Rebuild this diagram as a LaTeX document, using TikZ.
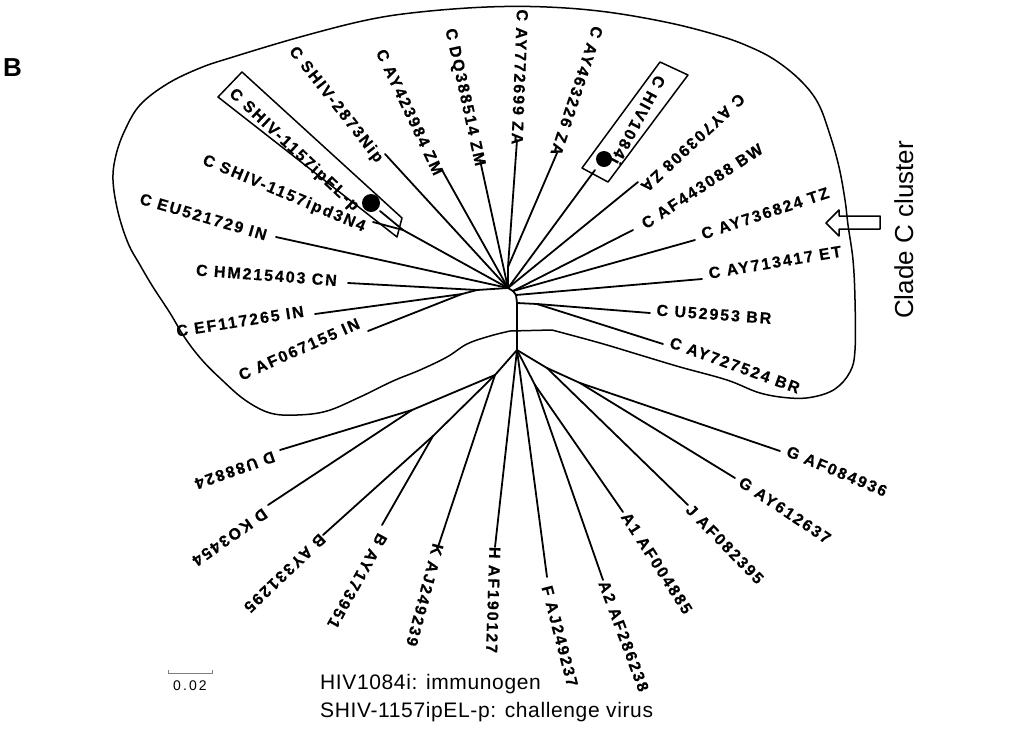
\documentclass[tikz,border=0pt]{standalone}
\usepackage{fontspec}
\setmainfont{Liberation Sans}
\newfontfamily\labfont[LetterSpace=12, BoldFeatures={FakeBold=0.5}]{Liberation Sans}
\newfontfamily\notefont[LetterSpace=3]{Liberation Sans}
\newfontfamily\scalefont[LetterSpace=15]{Liberation Sans}
\tikzset{
  br/.style={line width=1.8pt, line cap=round, line join=round},
  outl/.style={line width=1.5pt, line join=round},
  lab/.style={font=\labfont\bfseries\fontsize{16}{19}\selectfont, inner sep=0pt,
              text height=11.5pt, text depth=0pt, anchor=center},
  note/.style={font=\notefont\fontsize{21}{25}\selectfont, inner sep=0pt},
  dotn/.style={circle, fill=black, inner sep=0pt},
}
\begin{document}
\begin{tikzpicture}[x=1pt,y=-1pt]
\useasboundingbox (0,0) rectangle (1014,729);

% internal nodes
\coordinate (T) at (508,288);
\coordinate (U) at (508,267);
\coordinate (S) at (403,230);
\coordinate (W1) at (477,290);
\coordinate (W2) at (462,294);
\coordinate (V1) at (513,291);
\coordinate (V2) at (516,295);
\coordinate (R) at (517,303);
\coordinate (R2) at (537,304);
\coordinate (L) at (517,350);
\coordinate (N1) at (495,375);
\coordinate (Dn) at (412,410);
\coordinate (Bn) at (433,436);
\coordinate (An) at (535,385);
\coordinate (GJ) at (547,368);
\coordinate (Gn) at (580,383);

% tips
\coordinate (t1) at (385,154);
\coordinate (t2) at (442,170);
\coordinate (t3) at (480,160);
\coordinate (t4) at (517,140);
\coordinate (t5) at (557,153);
\coordinate (t6) at (595,170);
\coordinate (t7) at (638,182);
\coordinate (t8) at (633,230);
\coordinate (t9) at (695,240);
\coordinate (t10) at (702,279);
\coordinate (t11) at (650,313);
\coordinate (t12) at (663,344);
\coordinate (t13) at (780,451);
\coordinate (t14) at (735,478);
\coordinate (t15) at (688,505);
\coordinate (t16) at (623,512);
\coordinate (t17) at (603,580);
\coordinate (t18) at (547,577);
\coordinate (t19) at (495,547);
\coordinate (t20) at (438,547);
\coordinate (t21) at (382,525);
\coordinate (t22) at (323,535);
\coordinate (t23) at (268,505);
\coordinate (t24) at (280,450);
\coordinate (t25) at (368,331);
\coordinate (t26) at (315,314);
\coordinate (t27) at (348,283);
\coordinate (t28) at (276,237);
\coordinate (t29) at (373,222);
\coordinate (t30) at (380,211);

% cluster outline
\draw[outl] (510,331) -- (552,330) -- plot[smooth, tension=0.6] coordinates {(552,330) (600,343) (640,355) (680,367) (727,380) (760,393) (790,398) (813,397) (835,389) (850,372) (855,350) (855,300) (853,260) (848,225) (845,200) (839,167) (830,135) (818,103) (800,80) (775,60) (750,47) (720,36) (670,23) (607,12) (547,7) (487,7) (420,12) (367,20) (300,37) (233,57) (200,68) (167,84) (140,105) (125,130) (116,155) (113,180) (118,212) (128,243) (140,265) (153,287) (170,313) (185,338) (202,360) (222,380) (245,400) (270,413) (297,415) (327,411) (360,397) (393,381) (420,370) (447,357) (467,344) (490,336) (510,331)};

% branches
\draw[br] (T) -- (V1) -- (V2) -- (R) -- (L);
\draw[br] (T) -- (U);
\draw[br] (U) -- (t4);
\draw[br] (U) -- (t5);
\draw[br] (T) -- (t1);
\draw[br] (T) -- (t2);
\draw[br] (T) -- (t3);
\draw[br] (T) -- (t6);
\draw[br] (T) -- (t7);
\draw[br] (V1) -- (t8);
\draw[br] (V1) -- (t9);
\draw[br] (V2) -- (t10);
\draw[br] (R) -- (R2);
\draw[br] (R2) -- (t11);
\draw[br] (R2) -- (t12);
\draw[br] (L) -- (GJ);
\draw[br] (GJ) -- (Gn);
\draw[br] (Gn) -- (t13);
\draw[br] (Gn) -- (t14);
\draw[br] (GJ) -- (t15);
\draw[br] (L) -- (An);
\draw[br] (An) -- (t16);
\draw[br] (An) -- (t17);
\draw[br] (L) -- (t18);
\draw[br] (L) -- (t19);
\draw[br] (L) -- (N1);
\draw[br] (N1) -- (t20);
\draw[br] (N1) -- (Bn);
\draw[br] (Bn) -- (t21);
\draw[br] (Bn) -- (t22);
\draw[br] (N1) -- (Dn);
\draw[br] (Dn) -- (t23);
\draw[br] (Dn) -- (t24);
\draw[br] (T) -- (W1);
\draw[br] (W1) -- (t27);
\draw[br] (W1) -- (W2);
\draw[br] (W2) -- (t26);
\draw[br] (W2) -- (t25);
\draw[br] (T) -- (t28);
\draw[br] (T) -- (S);
\draw[br] (S) -- (t29);
\draw[br] (S) -- (t30);

% boxes and dots
\draw[outl] (242,72) -- (402,218) -- (397,237) -- (218,97) -- cycle;
\draw[outl] (660,62) -- (688,75) -- (608,182) -- (582,168) -- cycle;
\node[dotn, minimum size=18pt] (dot1) at (371,203) {};
\node[dotn, minimum size=16pt] (dot2) at (604,159) {};

% labels
\node[lab, rotate=-51.9] (l1) at (337,104) {C SHIV-2873Nip};
\node[lab, rotate=-64.8] (l2) at (410,112) {C AY423984 ZM};
\node[lab, rotate=-77.6] (l3) at (466,97) {C DQ388514 ZM};
\node[lab, rotate=-92.3] (l4) at (520,77) {C AY772699 ZA};
\node[lab, rotate=-108.3] (l5) at (577,91) {C AY463226 ZA};
\node[lab, rotate=-118.3] (l6) at (638,120) {C HIV1084i};
\node[lab, rotate=-136.9] (l7) at (693,143) {C AY703908 ZA};
\node[lab, rotate=33.2] (l8) at (702,186) {C AF443088 BW};
\node[lab, rotate=18.4] (l9) at (765,213) {C AY736824 TZ};
\node[lab, rotate=9.5] (l10) at (775,262) {C AY713417 ET};
\node[lab, rotate=-4.2] (l11) at (714,314) {C U52953 BR};
\node[lab, rotate=-19.9] (l12) at (735,365) {C AY727524 BR};
\node[lab, rotate=-22.7] (l13) at (837,471) {G AF084936};
\node[lab, rotate=-33.7] (l14) at (785,510) {G AY612637};
\node[lab, rotate=-45.8] (l15) at (725,544) {J AF082395};
\node[lab, rotate=-57.2] (l16) at (657,563) {A1 AF004885};
\node[lab, rotate=-69.6] (l17) at (624,636) {A2 AF286238};
\node[lab, rotate=-75.4] (l18) at (560,636) {F AJ249237};
\node[lab, rotate=-91.8] (l19) at (493.5,600) {H AF190127};
\node[lab, rotate=-104.9] (l20) at (425,595) {K AJ249239};
\node[lab, rotate=-119.1] (l21) at (357.5,581) {B AY173951};
\node[lab, rotate=-136.3] (l22) at (285,573.5) {B AY331295};
\node[lab, rotate=-144.9] (l23) at (230,537.5) {D KO3454};
\node[lab, rotate=-160.3] (l24) at (235,470.5) {D U88824};
\node[lab, rotate=24] (l25) at (299,349) {C AF067155 IN};
\node[lab, rotate=9] (l26) at (240,321) {C EF117265 IN};
\node[lab, rotate=-4.3] (l27) at (266.5,275) {C HM215403 CN};
\node[lab, rotate=-16.3] (l28) at (203.5,216.5) {C EU521729 IN};
\node[lab, rotate=-22.8] (l29) at (284.5,192.5) {C SHIV-1157ipd3N4};
\node[lab, rotate=-43] (l30) at (295,149) {C SHIV-1157ipEL-p};

% arrow
\draw[outl] (826,223) -- (839,210) -- (839,216) -- (880,216) -- (880,229) -- (839,229) -- (839,236) -- cycle;
\node[font=\fontsize{26}{30}\selectfont, rotate=90, anchor=base, inner sep=0pt] (clade) at (913,230) {Clade C cluster};

% panel letter
\node[font=\bfseries\fontsize{26}{30}\selectfont, anchor=base west, inner sep=0pt] (pB) at (3,76) {B};

% scale bar
\draw[gray, line width=0.8pt] (168,670) -- (168,673) -- (212,673) -- (212,670);
\node[font=\scalefont\fontsize{14}{16}\selectfont, anchor=base, inner sep=0pt] (sc) at (190,690) {0.02};

% footnote
\node[note, anchor=base west] (n1) at (320,689) {HIV1084i: immunogen};
\node[note, anchor=base west] (n2) at (320,717) {SHIV-1157ipEL-p: challenge virus};
\end{tikzpicture}
\end{document}
